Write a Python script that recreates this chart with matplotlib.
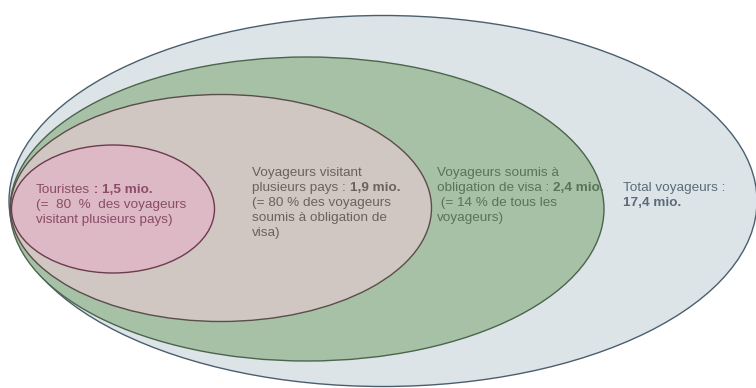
import matplotlib.pyplot as plt
from matplotlib.patches import Ellipse

plt.rcParams['font.family'] = ['Liberation Sans', 'DejaVu Sans']

# Nombre de voyageurs (millions) par groupe, du plus large au plus petit
groupes = ['Total voyageurs', 'Voyageurs soumis à obligation de visa',
           'Voyageurs visitant plusieurs pays', 'Touristes']
valeurs = [17.4, 2.4, 1.9, 1.5]

# Ellipses emboîtées : centre (x, y), largeur, hauteur en pixels
ellipses = [(383, 201, 748, 371), (307, 209, 594, 304),
            (221, 208, 421, 227), (113, 209, 203, 128)]
remplissage = ['#dde4e8', '#a7c1a7', '#d1c7c2', '#dcb9c5']
bordure = ['#4a5f6e', '#4b654d', '#5b4d4a', '#6e3a50']
couleur_texte = ['#5a6a77', '#587358', '#6b615d', '#8a4c66']


def mio(v):
    return ('%.1f' % v).replace('.', ',') + ' mio.'


# Lignes de chaque étiquette : (texte normal, texte gras)
etiquettes = [
    [('Total voyageurs :', ''), ('', mio(valeurs[0]))],
    [('Voyageurs soumis à', ''), ('obligation de visa : ', mio(valeurs[1])),
     (' (= 14 % de tous les', ''), ('voyageurs)', '')],
    [('Voyageurs visitant', ''), ('plusieurs pays : ', mio(valeurs[2])),
     ('(= 80 % des voyageurs', ''), ('soumis à obligation de', ''), ('visa)', '')],
    [('Touristes', ' : ' + mio(valeurs[3])), ('(=  80  %  des voyageurs', ''),
     ('visitant plusieurs pays)', '')],
]
positions = [(623, 182), (437, 167), (252, 167), (36, 184)]

fig = plt.figure(figsize=(7.56, 3.88), dpi=100)
ax = fig.add_axes([0, 0, 1, 1])
ax.set_xlim(0, 756)
ax.set_ylim(388, 0)
ax.axis('off')

for (cx, cy, w, h), fc, ec in zip(ellipses, remplissage, bordure):
    ax.add_patch(Ellipse((cx, cy), w, h, facecolor=fc, edgecolor=ec, lw=1.0))

taille = 9.7
for lignes, (x0, y0), col in zip(etiquettes, positions, couleur_texte):
    for i, (normal, gras) in enumerate(lignes):
        y = y0 + i * 15
        t = ax.text(x0, y, normal, fontsize=taille, color=col, va='top', ha='left')
        if gras:
            ax.annotate(gras, xy=(1, 1), xycoords=t, va='top', ha='left',
                        fontsize=taille, color=col, fontweight='bold')

fig.savefig('out.png', dpi=100)
